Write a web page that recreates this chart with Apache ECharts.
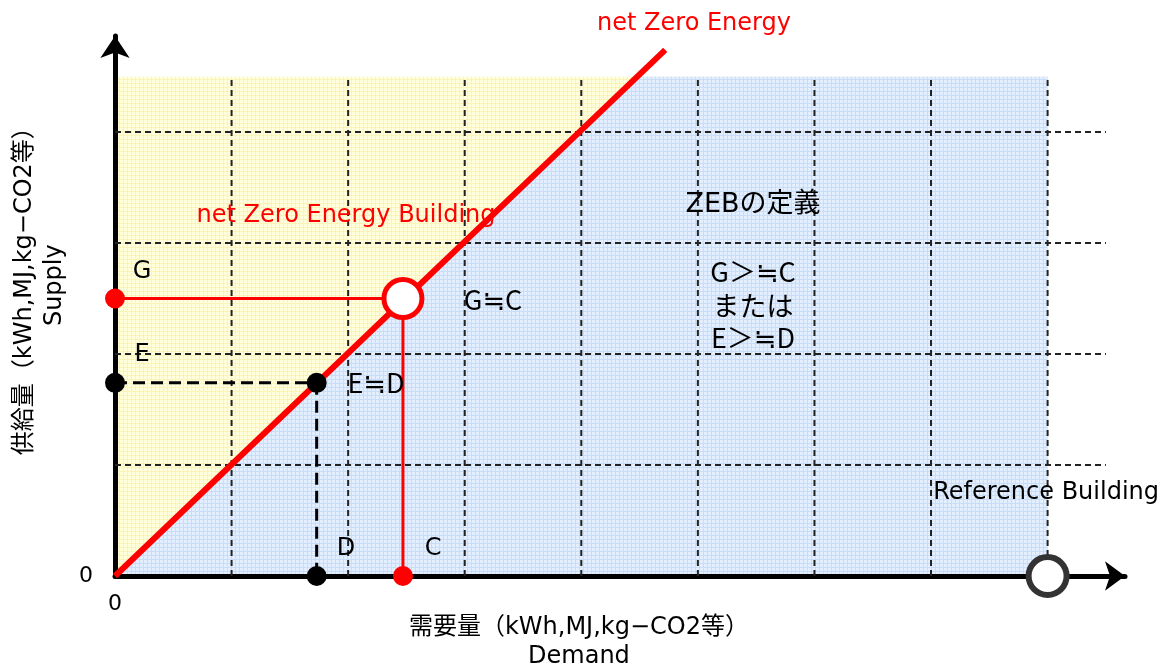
<!DOCTYPE html>
<html><head><meta charset="utf-8">
<script src="https://cdn.jsdelivr.net/npm/echarts@6/dist/echarts.min.js"></script>
<style>html,body{margin:0;padding:0;background:#fff}#c{width:1166px;height:669px}</style>
</head><body><div id="c"></div>
<script>
// ---- data ----
const gridX = [1, 2, 3, 4, 5, 6, 7, 8];      // vertical dashed grid lines (demand)
const gridY = [1, 2, 3, 4];                  // horizontal dashed grid lines (supply)
const shadeTop = 4.5;                        // top of shaded field
const shadeRight = 8;                        // right edge of shaded field
const hGridEnd = 8.5;                        // horizontal grid lines run out to here
const diagonal = [[0, 0], [4.72, 4.74]];     // net Zero Energy line
const supplyG = 2.50, demandC = 2.47;        // G ≒ C point
const supplyE = 1.74, demandD = 1.73;        // E ≒ D point
const referenceDemand = 8.0;                 // Reference Building
const axisTickLabels = ['0'];
const annotations = [
  {key: 'nze', text: 'net Zero Energy', at: [4.967, 4.973]},
  {key: 'nzeb', text: 'net Zero Energy Building', at: [1.982, 3.243]},
  {key: 'def', text: 'ZEBの定義', at: [5.473, 3.342]},
  {key: 'cond', text: 'G＞≒C', at: [5.473, 2.739]},
  {key: 'cond', text: 'または', at: [5.473, 2.432]},
  {key: 'cond', text: 'E＞≒D', at: [5.473, 2.144]},
  {key: 'eq', text: 'G≒C', at: [3.243, 2.486]},
  {key: 'eq', text: 'E≒D', at: [2.239, 1.739]},
  {key: 'pt', text: 'G', at: [0.232, 2.739]},
  {key: 'pt', text: 'E', at: [0.232, 1.991]},
  {key: 'pt', text: 'D', at: [1.982, 0.243]},
  {key: 'pt', text: 'C', at: [2.728, 0.243]},
  {key: 'ref', text: 'Reference Building', at: [7.987, 0.748]},
  {key: 'xname', text: '需要量（kWh,MJ,kg−CO2等）\nDemand', at: [3.98, -0.595]},
  {key: 'yname', text: '供給量（kWh,MJ,kg−CO2等）\nSupply', at: [-0.643, 2.62]}
];

// ---- styles ----
const FONT = '"DejaVu Sans","Noto Sans CJK JP",sans-serif';
const CJK = '"Noto Sans CJK JP","DejaVu Sans",sans-serif';
const textStyles = {
  nze: {size: 24, color: '#ff0000'},
  nzeb: {size: 24, color: '#ff0000'},
  def: {size: 27, color: '#000'},
  cond: {size: 27, color: '#000', lh: 33, font: CJK},
  eq: {size: 27, color: '#000', font: CJK},
  pt: {size: 24, color: '#000'},
  ref: {size: 24, color: '#000'},
  xname: {size: 24, color: '#000', lh: 29},
  yname: {size: 24, color: '#000', lh: 30, rot: Math.PI / 2}
};

function makePattern(bg, line, step) {
  const c = document.createElement('canvas');
  c.width = step; c.height = step;
  const g = c.getContext('2d');
  g.fillStyle = bg; g.fillRect(0, 0, step, step);
  g.fillStyle = line; g.fillRect(step - 1, 0, 1, step); g.fillRect(0, step - 1, step, 1);
  return c;
}
const yellowPat = makePattern('#ffffde', '#fbf3b8', 4);
const bluePat = makePattern('#e3efff', '#c8ddf8', 4);

// where diagonal meets top of the shaded field
const xAtTop = diagonal[0][0] + (diagonal[1][0] - diagonal[0][0]) * (shadeTop - diagonal[0][1]) / (diagonal[1][1] - diagonal[0][1]);
const regions = [
  {fill: yellowPat, pts: [[0, 0], [0, shadeTop], [xAtTop, shadeTop]]},
  {fill: bluePat, pts: [[0, 0], [xAtTop, shadeTop], [shadeRight, shadeTop], [shadeRight, 0]]}
];

const chart = echarts.init(document.getElementById('c'));
chart.setOption({
  animation: false,
  grid: {left: 115, right: 41, top: 36, bottom: 93},
  xAxis: {
    type: 'value', min: 0, max: 8.664, interval: 1, z: 2,
    axisLine: {show: true, onZero: false, symbol: ['none', 'arrow'], symbolSize: [22, 20], lineStyle: {color: '#000', width: 5}},
    axisTick: {show: false}, splitLine: {show: false},
    axisLabel: {margin: 17, fontSize: 22, color: '#000', fontFamily: FONT, showMaxLabel: false,
      formatter: v => (v === 0 ? axisTickLabels[0] : '')}
  },
  yAxis: {
    type: 'value', min: 0, max: 4.865, interval: 1, z: 2,
    axisLine: {show: true, onZero: false, symbol: ['none', 'arrow'], symbolSize: [22, 22], lineStyle: {color: '#000', width: 5}},
    axisTick: {show: false}, splitLine: {show: false},
    axisLabel: {margin: 22, fontSize: 22, color: '#000', fontFamily: FONT, showMaxLabel: false,
      formatter: v => (v === 0 ? axisTickLabels[0] : '')}
  },
  series: [
    {
      type: 'custom', z: 1, silent: true, clip: false,
      data: regions.map((r, i) => [i, 0]),
      renderItem: (params, api) => {
        const r = regions[params.dataIndex];
        return {type: 'polygon', shape: {points: r.pts.map(p => api.coord(p))}, style: {fill: {image: r.fill, repeat: 'repeat'}}};
      }
    },
    {
      type: 'custom', z: 3, silent: true, clip: false,
      data: gridX.map(x => [x, 0]),
      renderItem: (params, api) => {
        const x = gridX[params.dataIndex];
        const a = api.coord([x, 0]), b = api.coord([x, shadeTop]);
        return {type: 'line', shape: {x1: a[0], y1: a[1], x2: b[0], y2: b[1]},
          style: {stroke: '#222', lineWidth: 2, lineDash: [6, 4]}};
      }
    },
    {
      type: 'custom', z: 3, silent: true, clip: false,
      data: gridY.map(y => [0, y]),
      renderItem: (params, api) => {
        const y = gridY[params.dataIndex];
        const a = api.coord([0, y]), b = api.coord([hGridEnd, y]);
        return {type: 'line', shape: {x1: a[0], y1: a[1], x2: b[0], y2: b[1]},
          style: {stroke: '#222', lineWidth: 2, lineDash: [6, 4]}};
      }
    },
    {type: 'line', z: 4, clip: false, symbol: 'none', silent: true,
      data: [[0, supplyG], [demandC, supplyG]], lineStyle: {color: '#ff0000', width: 3}},
    {type: 'line', z: 4, clip: false, symbol: 'none', silent: true,
      data: [[demandC, supplyG], [demandC, 0]], lineStyle: {color: '#ff0000', width: 3}},
    {type: 'line', z: 4, clip: false, symbol: 'none', silent: true,
      data: [[0, supplyE], [demandD, supplyE]], lineStyle: {color: '#000', width: 3, type: [12, 6]}},
    {type: 'line', z: 4, clip: false, symbol: 'none', silent: true,
      data: [[demandD, supplyE], [demandD, 0]], lineStyle: {color: '#000', width: 3, type: [12, 6]}},
    {type: 'line', z: 5, clip: false, symbol: 'none', silent: true,
      data: diagonal, lineStyle: {color: '#ff0000', width: 6}},
    {type: 'scatter', z: 6, clip: false, silent: true, symbolSize: 20,
      data: [[0, supplyG], [demandC, 0]], itemStyle: {color: '#ff0000', opacity: 1}},
    {type: 'scatter', z: 6, clip: false, silent: true, symbolSize: 20,
      data: [[0, supplyE], [demandD, supplyE], [demandD, 0]], itemStyle: {color: '#000', opacity: 1}},
    {type: 'scatter', z: 6, clip: false, silent: true, symbolSize: 38,
      data: [[demandC, supplyG]], itemStyle: {color: '#fff', borderColor: '#ff0000', borderWidth: 5, opacity: 1}},
    {type: 'scatter', z: 6, clip: false, silent: true, symbolSize: 38,
      data: [[referenceDemand, 0]], itemStyle: {color: '#fff', borderColor: '#333', borderWidth: 6, opacity: 1}},
    {
      type: 'custom', z: 7, silent: true, clip: false,
      data: annotations.map(a => a.at),
      renderItem: (params, api) => {
        const a = annotations[params.dataIndex];
        const s = textStyles[a.key];
        const p = api.coord(a.at);
        return {type: 'text', x: p[0], y: p[1], rotation: s.rot || 0,
          style: {text: a.text, fill: s.color, font: s.size + 'px ' + (s.font || FONT),
            align: 'center', verticalAlign: 'middle', lineHeight: s.lh || s.size * 1.2}};
      }
    }
  ]
});
</script></body></html>
